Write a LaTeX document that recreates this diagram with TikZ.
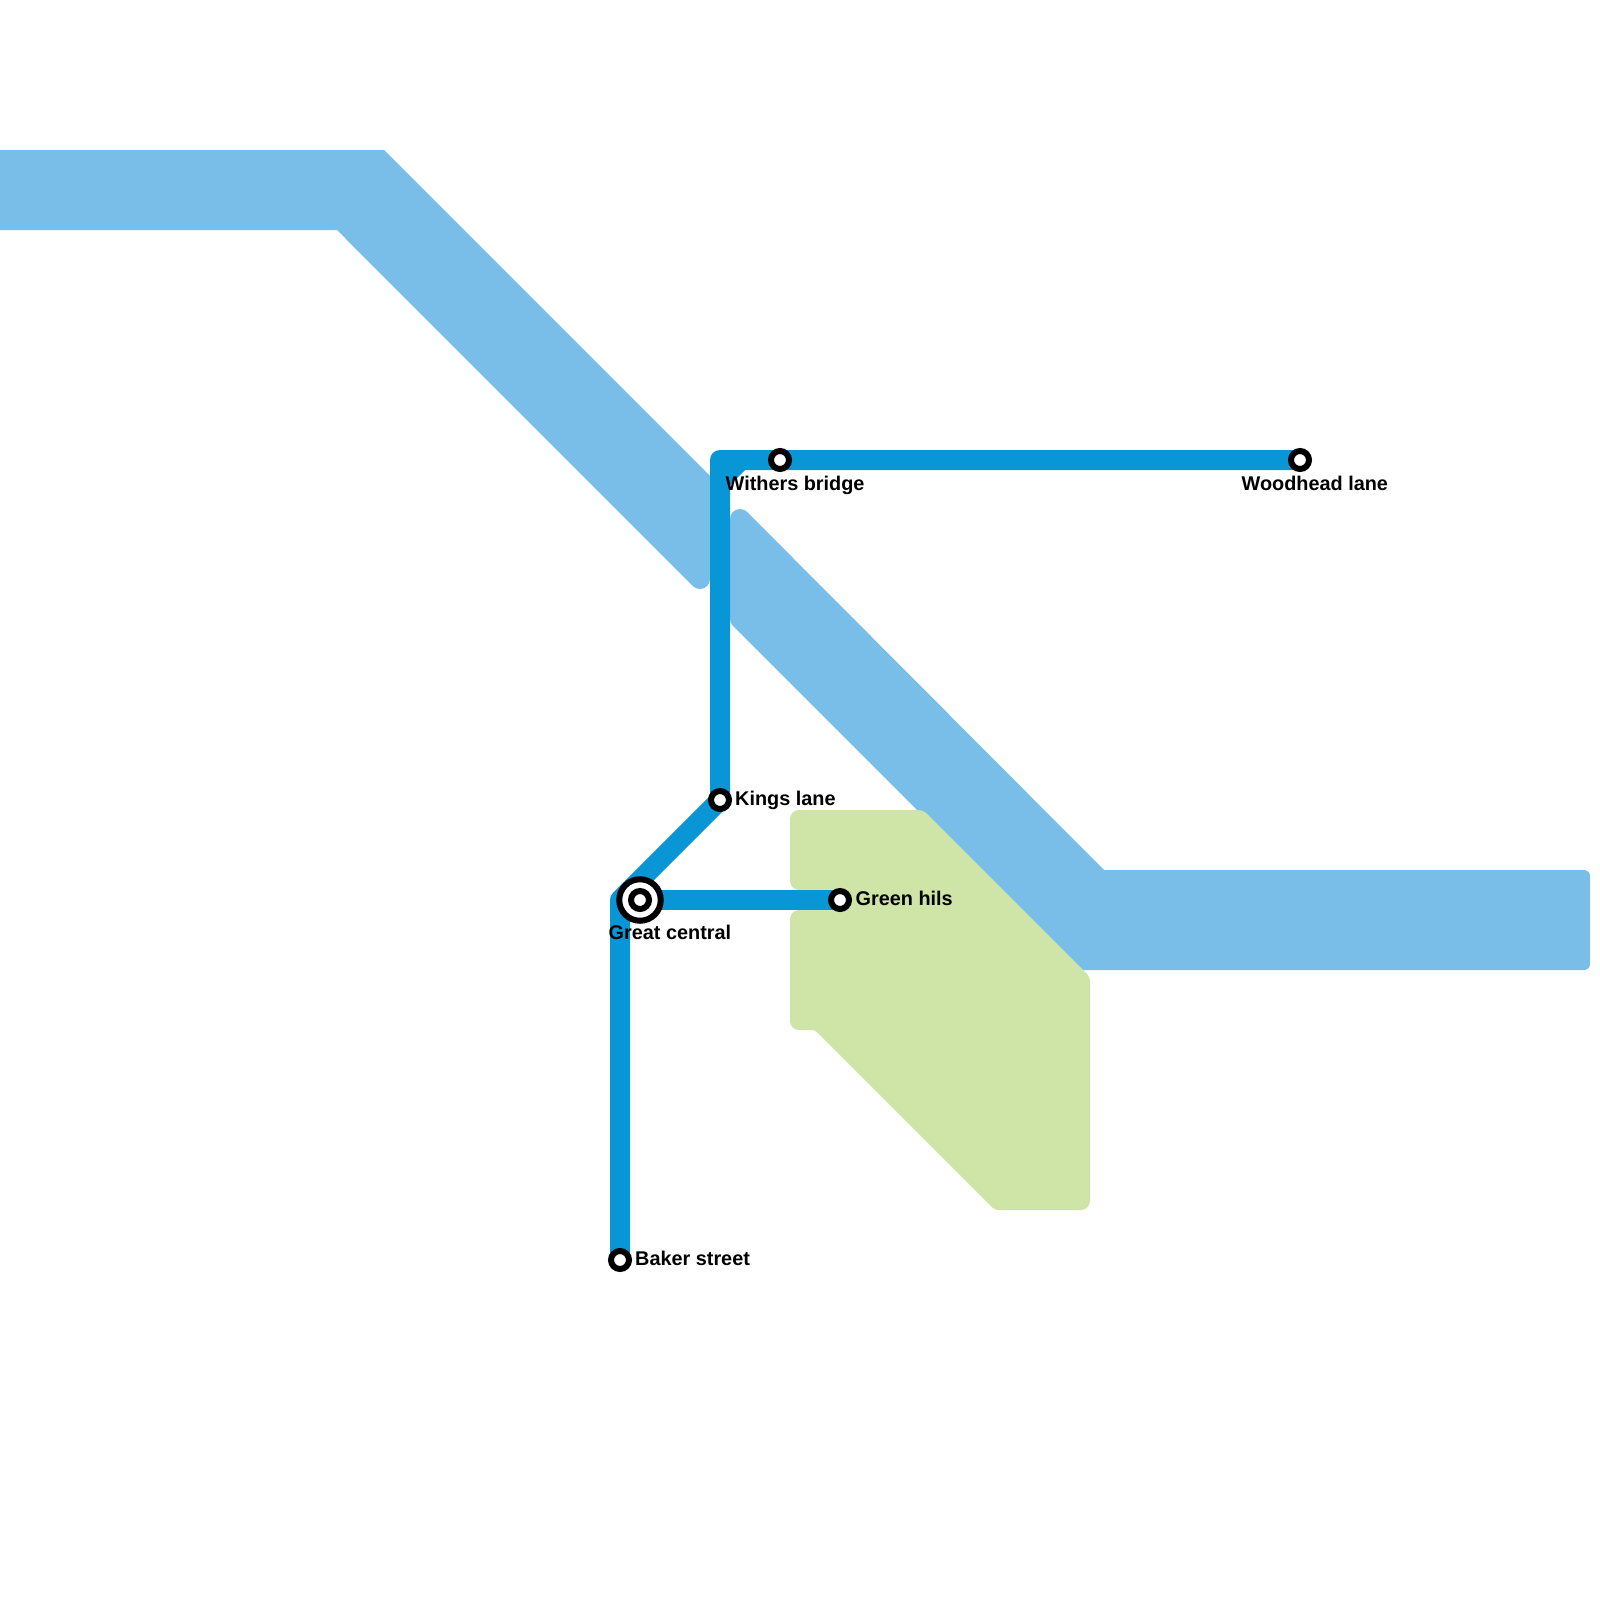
\documentclass[tikz,border=0pt]{standalone}
\usepackage{fontspec}
\usetikzlibrary{backgrounds}
\setmainfont{Liberation Sans}
\definecolor{riverblue}{HTML}{79BDE9}
\definecolor{linecol}{HTML}{0896D7}
\definecolor{parkgreen}{HTML}{CFE5A7}
\tikzset{
  river/.style={fill=riverblue,draw=none},
  park/.style={fill=parkgreen,draw=none},
  metro/.style={draw=linecol,line width=20pt,line join=round},
  stop/.style={circle,draw=black,fill=white,line width=6pt,minimum size=18pt,inner sep=0pt},
  hubring/.style={circle,draw=black,fill=white,line width=6pt,minimum size=41.5pt,inner sep=0pt},
  lab/.style={anchor=base west,inner sep=0pt,font=\fontsize{19.85}{24}\selectfont\bfseries,text=black}
}
\begin{document}
\begin{tikzpicture}[x=1pt,y=-1pt]
\useasboundingbox (0,0) rectangle (1600,1600);
% stations
\coordinate (bend) at (620,900);
\coordinate (topbend) at (720,460);
\node[stop] (baker) at (620,1260) {};
\node[hubring] (greatring) at (640,900) {};
\node[stop] (great) at (640,900) {};
\node[stop] (kings) at (720,800) {};
\node[stop] (green) at (840,900) {};
\node[stop] (withers) at (780,460) {};
\node[stop] (woodhead) at (1300,460) {};
% labels
\node[lab] (lkings) at (735,805) {Kings lane};
\node[lab] (lgreen) at (855.5,905) {Green hils};
\node[lab] (lgreat) at (608.5,939) {Great central};
\node[lab] (lwithers) at (725.5,490) {Withers bridge};
\node[lab] (lwood) at (1241.5,490) {Woodhead lane};
\node[lab] (lbaker) at (635,1265) {Baker street};
\begin{pgfonlayer}{background}
% rivers
\path[river] (0,150) -- (384,150) -- (710,476) -- (710,579) arc[start angle=0,end angle=135,radius=10] -- (337,230) -- (0,230) -- cycle;
\path[river] (1104,870) [rounded corners=6pt] -- (1590,870) -- (1590,970) [sharp corners] -- (1077,970) [rounded corners=4pt] -- (730,623) [sharp corners] -- (730,519) arc[start angle=180,end angle=315,radius=10] -- cycle;
% park
\path[park] (790,850) [rounded corners=9pt] -- (790,810) [rounded corners=4pt] -- (923,810) -- (1090,977) [rounded corners=9pt] -- (1090,1210) [rounded corners=3pt] -- (995,1210) -- (815,1030) [rounded corners=9pt] -- (790,1030) -- (790,910) [sharp corners] -- (840,910) -- (840,890) [rounded corners=9pt] -- (790,890) [sharp corners] -- cycle;
% lines
\draw[metro] (baker.center) -- (bend) -- (kings.center) -- (topbend) -- (woodhead.center);
\draw[metro] (great.center) -- (green.center);
\fill[linecol] (730,470) -- (745,470) -- (730,485) -- cycle;
\end{pgfonlayer}
\end{tikzpicture}
\end{document}
